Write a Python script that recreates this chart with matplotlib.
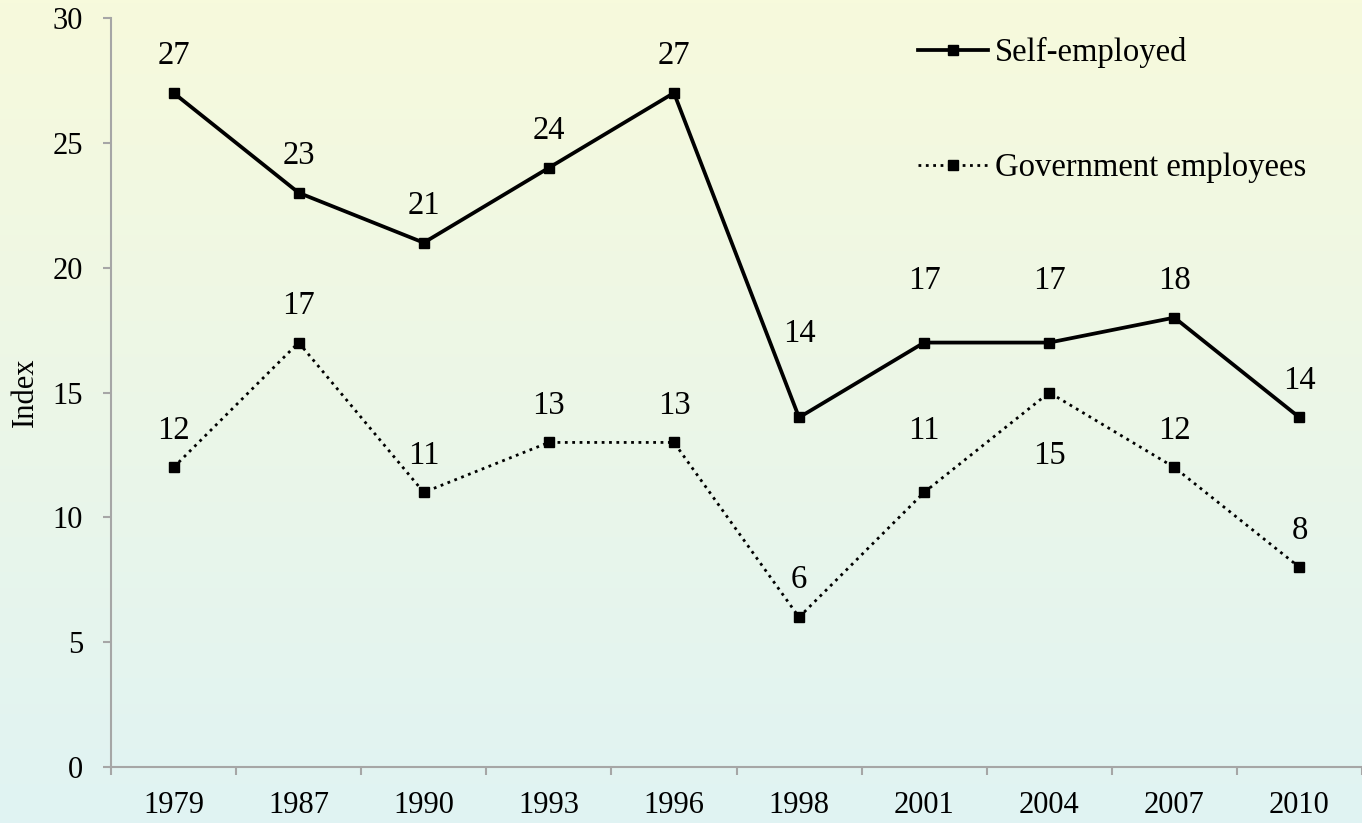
import matplotlib
matplotlib.use("Agg")
import matplotlib.pyplot as plt
import numpy as np

years = ["1979", "1987", "1990", "1993", "1996", "1998", "2001", "2004", "2007", "2010"]
self_employed = [27, 23, 21, 24, 27, 14, 17, 17, 18, 14]
government = [12, 17, 11, 13, 13, 6, 11, 15, 12, 8]

# label offsets in pixels (vertical), per point
self_offsets = [37, 37, 37, 37, 37, 84, 62, 62, 37, 37]
gov_offsets = [37, 37, 37, 37, 37, 37, 62, -63, 37, 37]

plt.rcParams['font.family'] = ['Liberation Serif', 'DejaVu Serif']
FS = 22        # ticks, axis label
FS_LBL = 23.5  # data labels
FS_LEG = 23.5  # legend

fig = plt.figure(figsize=(13.62, 8.23), dpi=100)

# === gradient background ===
bg = fig.add_axes([0, 0, 1, 1], zorder=-1)
top = np.array([247, 250, 220]) / 255
bottom = np.array([224, 243, 243]) / 255
t = np.linspace(0, 1, 256)[:, None]
grad = top[None, :] * (1 - t) + bottom[None, :] * t
bg.imshow(grad[:, None, :], aspect='auto', extent=[0, 1, 0, 1])
bg.axis('off')

ax = fig.add_axes([111 / 1362, 56 / 823, 1 - 111 / 1362, (767 - 18) / 823])
ax.patch.set_alpha(0)

x = np.arange(len(years))
ax.plot(x, self_employed, color='black', lw=2.7, marker='s', markersize=6.5,
        label='Self-employed', clip_on=False)
ax.plot(x, government, color='black', lw=2.0, linestyle=':', marker='s', markersize=6.5,
        label='Government employees', clip_on=False)

for xi, v, off in zip(x, self_employed, self_offsets):
    ax.annotate(str(v), (xi, v), xytext=(0, off), textcoords='offset pixels',
                ha='center', va='center', fontsize=FS_LBL)
for xi, v, off in zip(x, government, gov_offsets):
    ax.annotate(str(v), (xi, v), xytext=(0, off), textcoords='offset pixels',
                ha='center', va='center', fontsize=FS_LBL)

ax.set_xlim(-0.5, len(years) - 0.5)
ax.set_ylim(0, 30)
ax.set_yticks(range(0, 31, 5))
ax.set_xticks(x)
ax.set_xticklabels(years)
ax.set_xticks(np.arange(-0.5, len(years)), minor=True)

grey = '#A6A6A6'
for s in ['top', 'right']:
    ax.spines[s].set_visible(False)
for s in ['left', 'bottom']:
    ax.spines[s].set_color(grey)
    ax.spines[s].set_linewidth(1.5)

ax.tick_params(axis='y', direction='out', length=6, width=1.5, color=grey,
               labelsize=FS, pad=14)
ax.tick_params(axis='x', which='major', length=0, labelsize=FS, pad=17)
ax.tick_params(axis='x', which='minor', direction='out', length=6, width=1.5, color=grey)

ax.set_ylabel('Index', fontsize=FS, labelpad=9)

ax.legend(loc='upper left', bbox_to_anchor=(918 / 1362, 1 - 37 / 823),
          bbox_transform=fig.transFigure, frameon=False, fontsize=FS_LEG,
          handlelength=2.15, handletextpad=0.2, labelspacing=2.6, borderpad=0,
          borderaxespad=0)

fig.savefig('out.png', dpi=100)
